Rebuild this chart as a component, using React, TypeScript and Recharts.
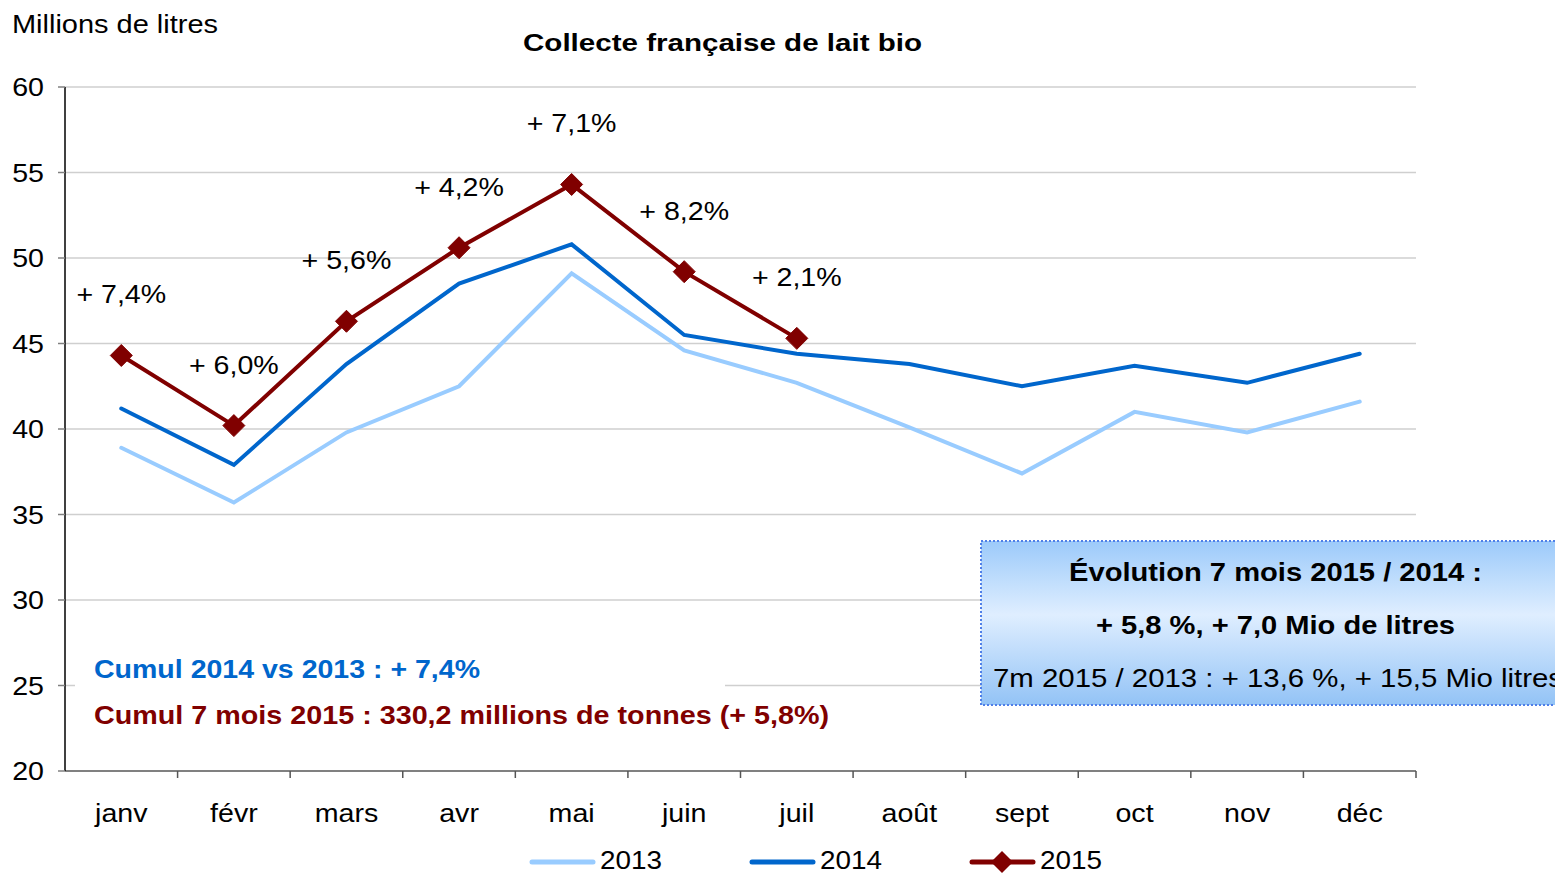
import React from 'react';
import { LineChart, Line, XAxis, YAxis, CartesianGrid, LabelList } from 'recharts';

const months = ['janv', 'févr', 'mars', 'avr', 'mai', 'juin', 'juil', 'août', 'sept', 'oct', 'nov', 'déc'];
const v2013 = [38.9, 35.7, 39.8, 42.5, 49.1, 44.6, 42.7, 40.1, 37.4, 41.0, 39.8, 41.6];
const v2014 = [41.2, 37.9, 43.8, 48.5, 50.8, 45.5, 44.4, 43.8, 42.5, 43.7, 42.7, 44.4];
const v2015 = [44.3, 40.2, 46.3, 50.6, 54.3, 49.2, 45.3];
const labels2015 = ['+ 7,4%', '+ 6,0%', '+ 5,6%', '+ 4,2%', '+ 7,1%', '+ 8,2%', '+ 2,1%'];
const yTicks = [20, 25, 30, 35, 40, 45, 50, 55, 60];
const seriesNames = ['2013', '2014', '2015'];

const data = months.map((m, i) => ({
  month: m,
  y2013: v2013[i],
  y2014: v2014[i],
  y2015: v2015[i],
  lab: labels2015[i],
}));

const W = 1555;
const H = 873;
const FONT = '"Liberation Sans", Arial, Helvetica, sans-serif';
const C2013 = '#99ccff';
const C2014 = '#0066cc';
const C2015 = '#800000';
const MARGIN = { top: 87, right: 139, left: 0, bottom: 0 };
const Y_AXIS_W = 65;
const X_AXIS_H = 102;
const PLOT_W = W - MARGIN.left - MARGIN.right - Y_AXIS_W;
const BAND = PLOT_W / months.length;
const SX = 1.1;

function SText(props: any) {
  const { x, y, sx = SX, anchor = 'middle', size = 26, weight = 'normal', fill = '#000', children } = props;
  return (
    <text
      transform={`translate(${x},${y}) scale(${sx},1)`}
      textAnchor={anchor}
      fontFamily={FONT}
      fontSize={size}
      fontWeight={weight}
      fill={fill}
    >
      {children}
    </text>
  );
}

function XTick(props: any) {
  const { x, y, payload, index } = props;
  const isLast = index === months.length - 1;
  return (
    <g>
      {index > 0 && <line x1={x - BAND / 2} x2={x - BAND / 2} y1={y} y2={y + 7} stroke="#555" strokeWidth={1.5} />}
      {isLast && <line x1={x + BAND / 2} x2={x + BAND / 2} y1={y} y2={y + 7} stroke="#555" strokeWidth={1.5} />}
      <SText x={x} y={y + 51}>{payload.value}</SText>
    </g>
  );
}

function YTick(props: any) {
  const { x, y, payload } = props;
  return <SText x={x - 14} y={y + 9} anchor="end">{payload.value}</SText>;
}

function Diamond(props: any) {
  const { cx, cy } = props;
  if (cx == null || cy == null) return null;
  const r = 11;
  return <path d={`M${cx},${cy - r} L${cx + r},${cy} L${cx},${cy + r} L${cx - r},${cy} Z`} fill={C2015} stroke={C2015} strokeWidth={1} />;
}

function PctLabel(props: any) {
  const { x, y, value } = props;
  if (value == null || x == null || y == null) return null;
  return <SText x={x} y={y - 52}>{value}</SText>;
}

function Overlay() {
  const t = (x: number, y: number, len: number, s: string, opts: any = {}) => (
    <text
      x={x}
      y={y}
      textLength={len}
      lengthAdjust="spacingAndGlyphs"
      fontFamily={FONT}
      fontSize={opts.size || 26}
      fontWeight={opts.weight || 'normal'}
      fill={opts.fill || '#000'}
    >
      {s}
    </text>
  );
  const legendItems = [
    { x: 530, c: C2013, diamond: false },
    { x: 750, c: C2014, diamond: false },
    { x: 970, c: C2015, diamond: true },
  ];
  return (
    <svg width={W} height={H} style={{ position: 'absolute', left: 0, top: 0, pointerEvents: 'none' }}>
      <defs>
        <linearGradient id="boxGrad" x1="0" y1="0" x2="0" y2="1">
          <stop offset="0%" stopColor="#9ccafa" />
          <stop offset="45%" stopColor="#dfeeff" />
          <stop offset="100%" stopColor="#93c3f6" />
        </linearGradient>
      </defs>
      {t(523, 51, 399, 'Collecte française de lait bio', { size: 24, weight: 'bold' })}
      {t(12, 33, 206, 'Millions de litres')}

      <rect x={75} y={646} width={650} height={92} fill="#ffffff" />
      {t(94, 678, 386, 'Cumul 2014 vs 2013 : + 7,4%', { weight: 'bold', fill: C2014 })}
      {t(94, 724, 735, 'Cumul 7 mois 2015 : 330,2 millions de tonnes (+ 5,8%)', { weight: 'bold', fill: C2015 })}

      <rect x={981} y={541} width={590} height={164} fill="url(#boxGrad)" stroke="#4f7fe8" strokeWidth={2} strokeDasharray="2 2" />
      {t(1069, 581, 413, 'Évolution 7 mois 2015 / 2014 :', { weight: 'bold' })}
      {t(1096, 634, 359, '+ 5,8 %, + 7,0 Mio de litres', { weight: 'bold' })}
      {t(993, 687, 570, '7m 2015 / 2013 : + 13,6 %, + 15,5 Mio litres')}

      {legendItems.map((it, i) => (
        <g key={seriesNames[i]}>
          <line x1={it.x + 2} x2={it.x + 63} y1={862} y2={862} stroke={it.c} strokeWidth={5} strokeLinecap="round" />
          {it.diamond && (
            <path d={`M${it.x + 32},${851} L${it.x + 43},${862} L${it.x + 32},${873} L${it.x + 21},${862} Z`} fill={it.c} />
          )}
          {t(it.x + 70, 869, 62, seriesNames[i], { size: 25 })}
        </g>
      ))}
    </svg>
  );
}

export default function App() {
  return (
    <div style={{ position: 'absolute', left: 0, top: 0, width: W, height: H, overflow: 'hidden', background: '#fff' }}>
      <LineChart width={W} height={H} data={data} margin={MARGIN}>
        <CartesianGrid horizontal={true} vertical={false} stroke="#cfcfcf" strokeWidth={1.5} />
        <XAxis
          dataKey="month"
          height={X_AXIS_H}
          padding={{ left: BAND / 2, right: BAND / 2 }}
          axisLine={{ stroke: '#808080', strokeWidth: 2 }}
          tickLine={false}
          tickSize={0}
          tickMargin={0}
          interval={0}
          tick={<XTick />}
        />
        <YAxis
          width={Y_AXIS_W}
          domain={[20, 60]}
          ticks={yTicks}
          interval={0}
          axisLine={{ stroke: '#000', strokeWidth: 1.5 }}
          tickLine={{ stroke: '#808080', strokeWidth: 1.5 }}
          tickSize={7}
          tickMargin={0}
          tick={<YTick />}
        />
        <Line dataKey="y2013" stroke={C2013} strokeWidth={4} dot={false} strokeLinecap="round" isAnimationActive={false} />
        <Line dataKey="y2014" stroke={C2014} strokeWidth={4} dot={false} strokeLinecap="round" isAnimationActive={false} />
        <Line dataKey="y2015" stroke={C2015} strokeWidth={4} dot={<Diamond />} activeDot={false} strokeLinecap="round" isAnimationActive={false}>
          <LabelList dataKey="lab" content={<PctLabel />} />
        </Line>
      </LineChart>
      <Overlay />
    </div>
  );
}
